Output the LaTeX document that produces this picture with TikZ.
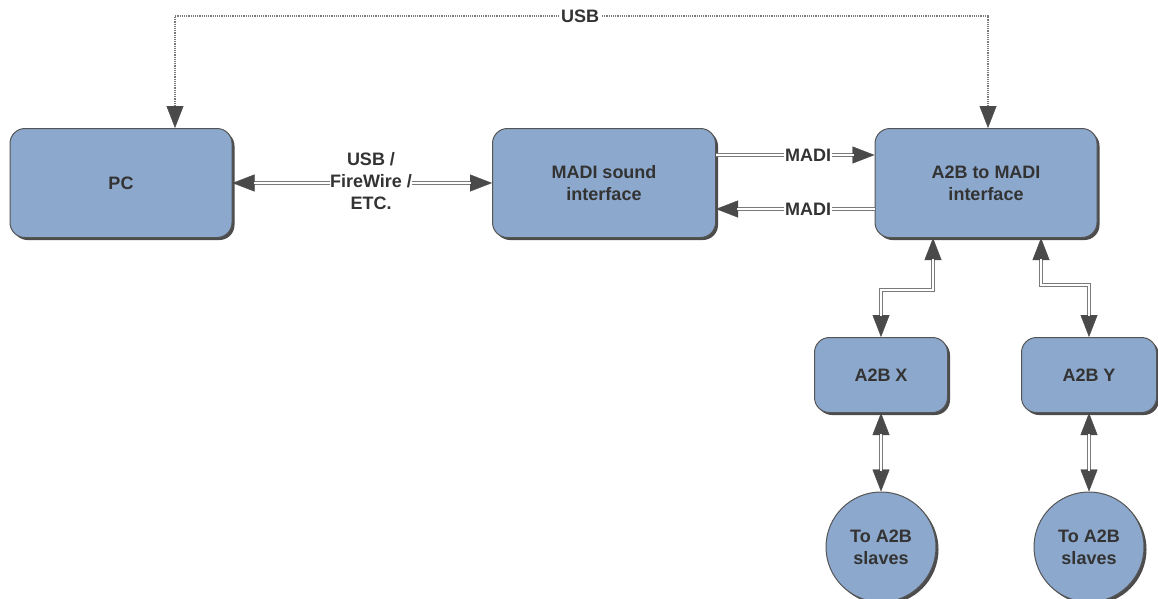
\documentclass[tikz,border=0pt]{standalone}
\usepackage{fontspec}
\setmainfont{Liberation Sans}
\usetikzlibrary{arrows.meta,shadows}
\definecolor{boxfill}{HTML}{8CA8CC}
\definecolor{boxline}{HTML}{555555}
\definecolor{tipc}{HTML}{4A4A4A}
\definecolor{txt}{HTML}{333333}
\definecolor{wire}{HTML}{7A7A7A}
\begin{document}
\begin{tikzpicture}[x=1pt,y=-1pt,
  every node/.style={font=\fontsize{18}{22}\selectfont\bfseries, text=txt},
  box/.style={draw=boxline, line width=1pt, fill=boxfill, rounded corners=15pt,
    drop shadow={shadow xshift=2.5pt, shadow yshift=-2.5pt, opacity=0.7, fill=black},
    align=center, inner sep=0pt},
  disc/.style={draw=boxline, line width=1pt, fill=boxfill, circle,
    minimum size=110pt, inner sep=0pt, align=center,
    drop shadow={shadow xshift=2.5pt, shadow yshift=-2.5pt, opacity=0.7, fill=black}},
  tip/.tip={Triangle[length=22pt,width=17pt,line width=0.4pt,color=tipc,fill=tipc]},
  conn/.style={draw=wire, line width=4.2pt,
    postaction={draw=white, line width=1.6pt, -, shorten <=21pt, shorten >=21pt}},
  connr/.style={draw=wire, line width=4.2pt, -tip,
    postaction={draw=white, line width=1.6pt, -, shorten >=21pt}},
  usbline/.style={draw=wire, line width=1.8pt, dash pattern=on 1.2pt off 1pt},
  lbl/.style={fill=white, inner sep=1pt, align=center}
]
\useasboundingbox (0,0) rectangle (1158,598);

\node[box, minimum width=222pt, minimum height=109pt] (pc) at (121,183) {PC};
\node[box, minimum width=223pt, minimum height=109pt] (madi) at (604,183) {MADI sound\\interface};
\node[box, minimum width=222pt, minimum height=109pt] (a2b) at (986,183) {A2B to MADI\\interface};
\node[box, minimum width=133pt, minimum height=75pt] (x) at (881,375) {A2B X};
\node[box, minimum width=135pt, minimum height=75pt] (y) at (1089,375) {A2B Y};
\node[disc] (sx) at (881,547) {To A2B\\slaves};
\node[disc] (sy) at (1089,547) {To A2B\\slaves};

\coordinate (u1) at (175,16);
\coordinate (u2) at (988,16);
\draw[usbline, tip-tip] (pc.north -| u1) -- (u1) -- (u2) -- (a2b.north -| u2);
\node[lbl, inner sep=2pt] (usb) at (580,16) {USB};

\draw[conn, tip-tip] (pc.east) -- (madi.west);
\node[lbl, inner sep=0pt] (usblbl) at (371,181) {USB /\\FireWire /\\ETC.};

\coordinate (m1) at (0,155);
\coordinate (m2) at (0,209);
\draw[connr] (madi.east |- m1) -- (a2b.west |- m1);
\node[lbl] (madi1) at (808,155) {MADI};
\draw[connr] (a2b.west |- m2) -- (madi.east |- m2);
\node[lbl] (madi2) at (808,209) {MADI};

\coordinate (bx) at (933,290);
\coordinate (by) at (1041,285);
\draw[conn, tip-tip] (a2b.south -| bx) -- (bx) -- (bx -| x.north) -- (x.north);
\draw[conn, tip-tip] (a2b.south -| by) -- (by) -- (by -| y.north) -- (y.north);

\draw[conn, tip-tip] (x.south) -- (sx.north);
\draw[conn, tip-tip] (y.south) -- (sy.north);
\end{tikzpicture}
\end{document}
